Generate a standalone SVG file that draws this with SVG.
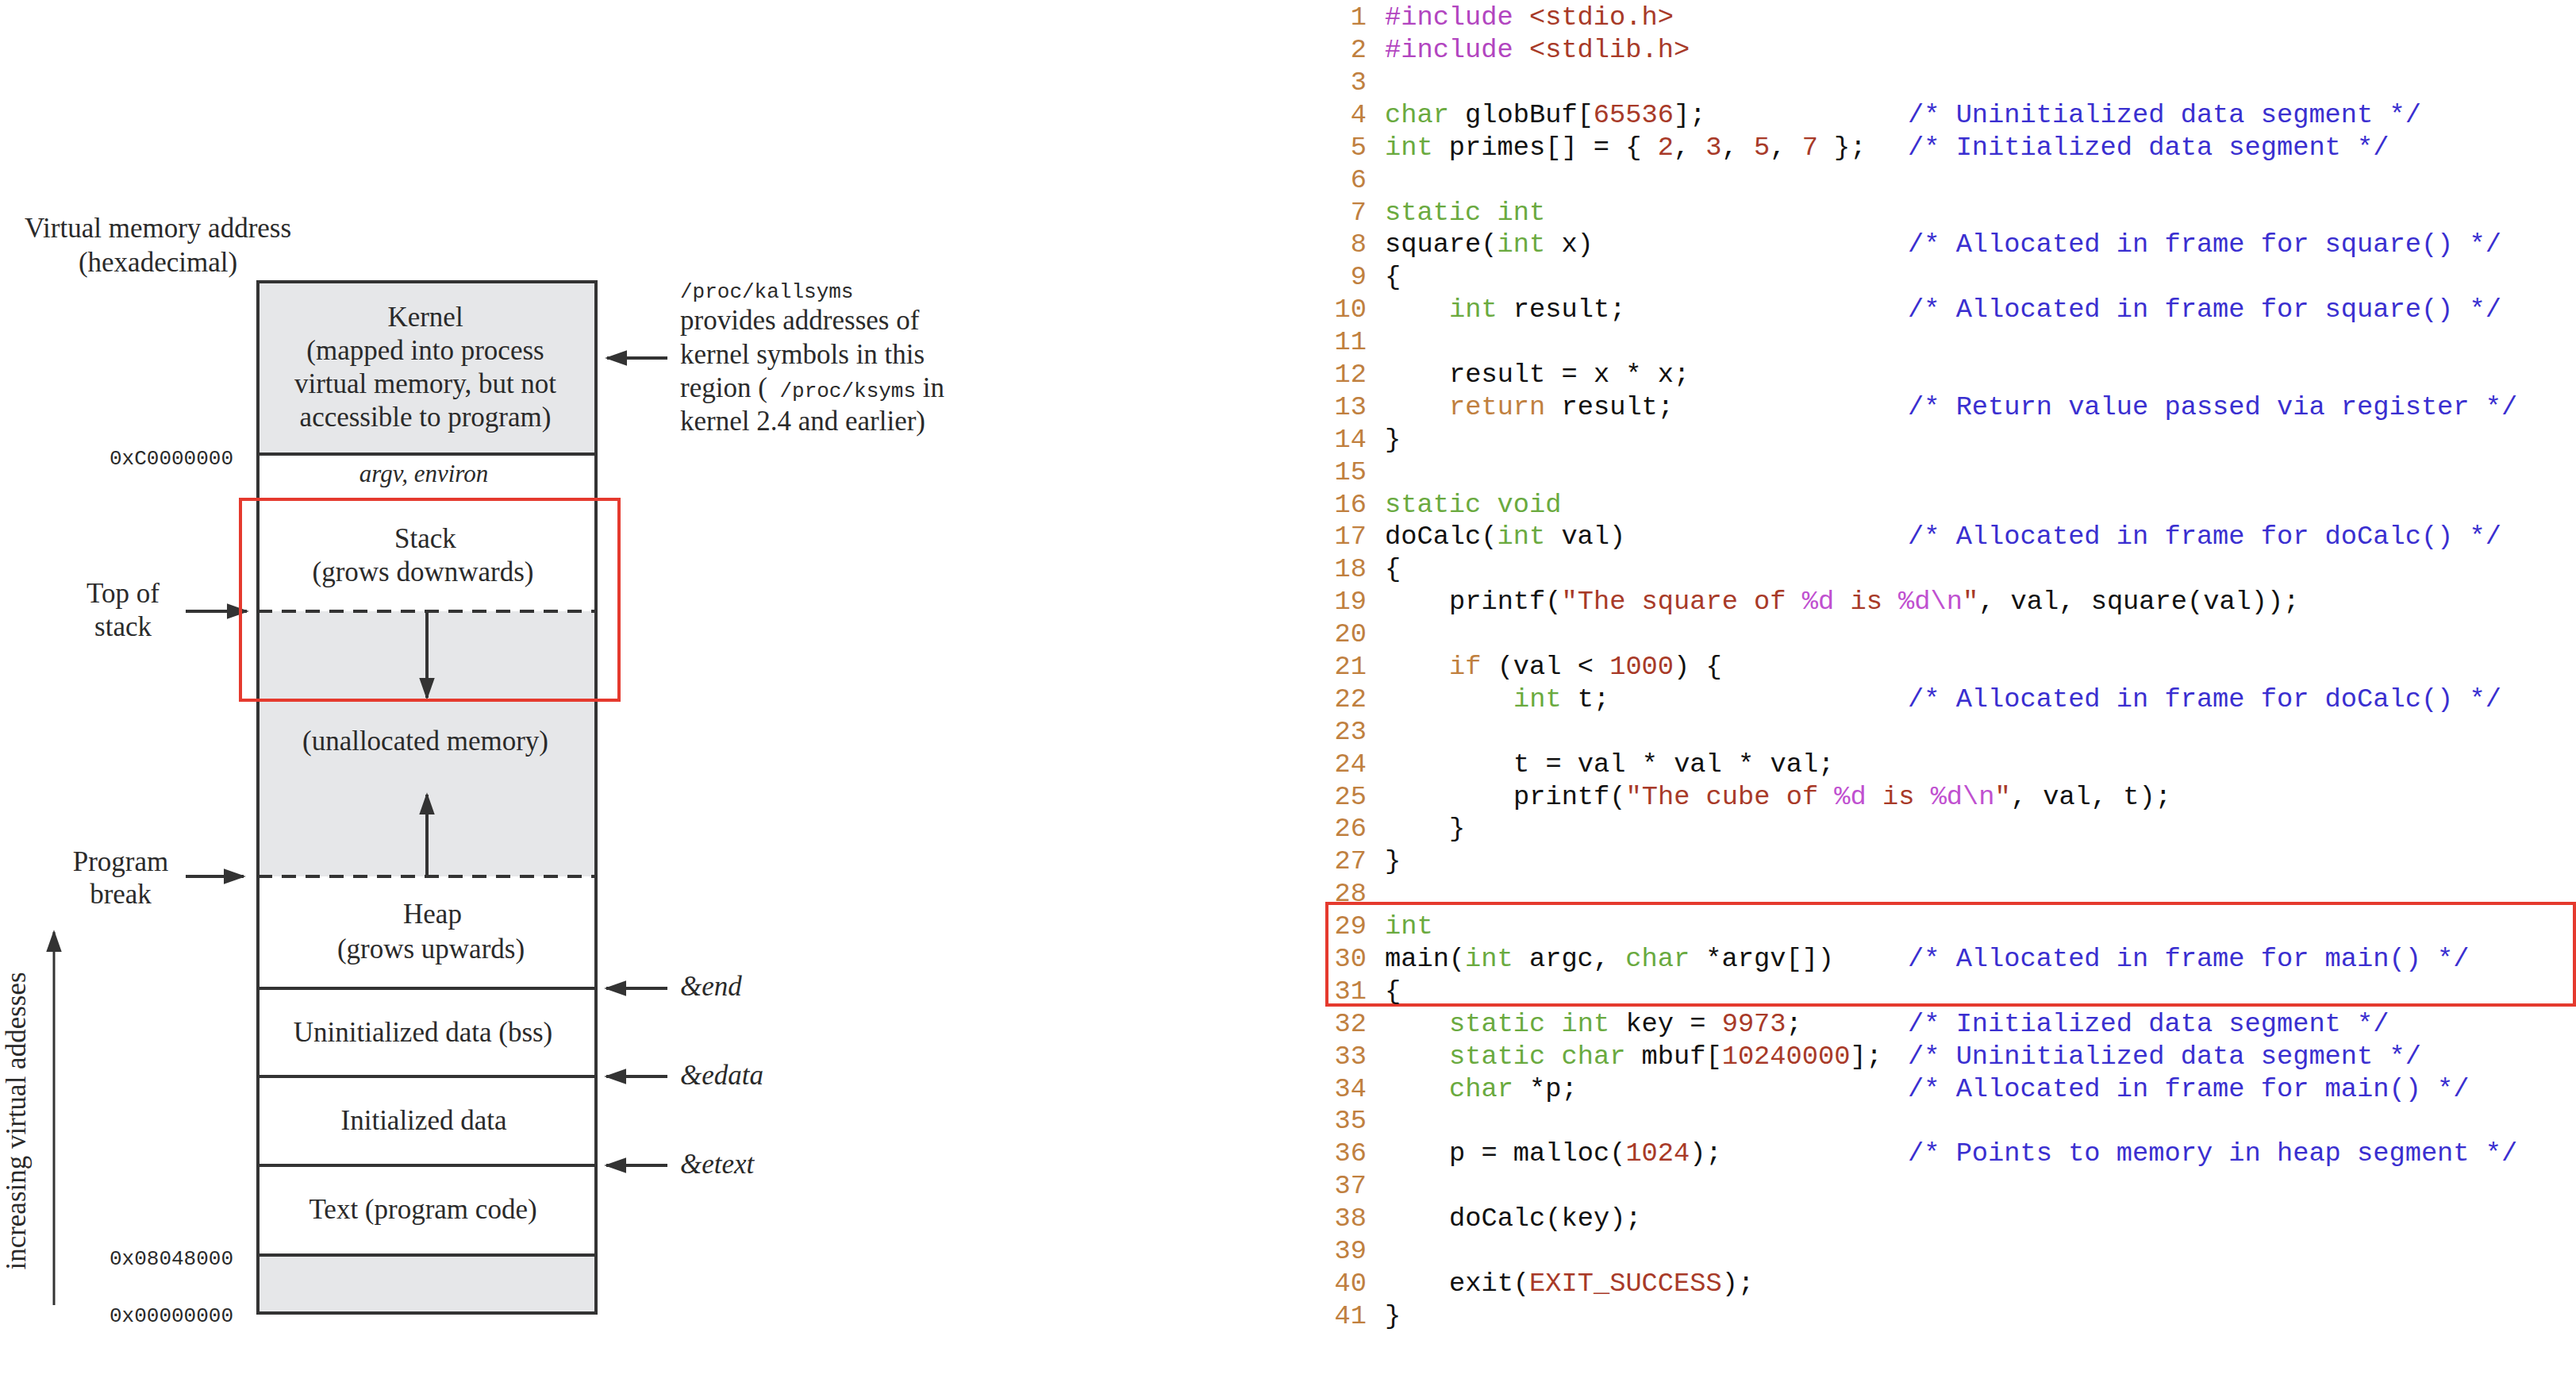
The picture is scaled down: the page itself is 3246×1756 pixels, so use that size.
<svg xmlns="http://www.w3.org/2000/svg" width="3246" height="1756" viewBox="0 0 3246 1756">
<style>
.s{font-family:"Liberation Serif",serif;font-size:35px;fill:#2a2a2a}
.m{font-family:"Liberation Mono",monospace;font-size:26px;fill:#2a2a2a}
.c{font-family:"Liberation Mono",monospace;font-size:33.7px;fill:#111}
.ln{fill:#c0803f;text-anchor:end}
.k{fill:#6aaa3f}.p{fill:#b245c0}.r{fill:#a83a28}.cm{fill:#3a2fd0}.o{fill:#c0803f}.f{fill:#c050d0}
.box{stroke:#333;stroke-width:4;fill:none}
.g{fill:#e6e7e9}
.a{stroke:#333;stroke-width:4;fill:none}
.red{stroke:#e53a2e;stroke-width:4;fill:none}
</style>
<defs><marker id="ah" viewBox="0 0 10 10" refX="9" refY="5" markerWidth="6" markerHeight="6" markerUnits="userSpaceOnUse" orient="auto"><path d="M0,0L10,5L0,10z" fill="#333"/></marker>
<marker id="ah2" viewBox="0 0 10 10" refX="9" refY="5" markerWidth="28" markerHeight="28" markerUnits="userSpaceOnUse" orient="auto"><path d="M0,1.5L10,5L0,8.5z" fill="#333"/></marker></defs>
<rect width="3246" height="1756" fill="#fff"/>
<g id="memory">
<rect class="g" x="325" y="355" width="426" height="217"/>
<rect class="g" x="325" y="770" width="426" height="334"/>
<rect class="g" x="325" y="1581" width="426" height="73"/>
<rect class="box" x="325" y="355" width="426" height="1299"/>
<line class="a" x1="325" y1="572" x2="751" y2="572"/>
<line class="a" x1="325" y1="629" x2="751" y2="629" stroke="#999"/>
<line class="a" x1="325" y1="770" x2="751" y2="770" stroke-dasharray="18,12"/>
<line class="a" x1="325" y1="1104" x2="751" y2="1104" stroke-dasharray="18,12"/>
<line class="a" x1="325" y1="1245" x2="751" y2="1245"/>
<line class="a" x1="325" y1="1356" x2="751" y2="1356"/>
<line class="a" x1="325" y1="1468" x2="751" y2="1468"/>
<line class="a" x1="325" y1="1581" x2="751" y2="1581"/>
<g class="s" text-anchor="middle">
<text x="536" y="411">Kernel</text>
<text x="536" y="453">(mapped into process</text>
<text x="536" y="495">virtual memory, but not</text>
<text x="536" y="537">accessible to program)</text>
<text x="534" y="607" font-style="italic" font-size="31">argv, environ</text>
<text x="536" y="690">Stack</text>
<text x="533" y="732">(grows downwards)</text>
<text x="536" y="945">(unallocated memory)</text>
<text x="545" y="1163">Heap</text>
<text x="543" y="1207">(grows upwards)</text>
<text x="533" y="1312">Uninitialized data (bss)</text>
<text x="534" y="1423">Initialized data</text>
<text x="533" y="1535">Text (program code)</text>
<text x="155" y="759">Top of</text>
<text x="155" y="801">stack</text>
<text x="152" y="1097">Program</text>
<text x="152" y="1138">break</text>
<text x="199" y="299">Virtual memory address</text>
<text x="199" y="342">(hexadecimal)</text>
</g>
<g class="m" text-anchor="end">
<text x="294" y="585">0xC0000000</text>
<text x="294" y="1593">0x08048000</text>
<text x="294" y="1665">0x00000000</text>
</g>
<text class="m" x="857" y="375">/proc/kallsyms</text>
<text class="s" x="857" y="415">provides addresses of</text>
<text class="s" x="857" y="458">kernel symbols in this</text>
<text class="s" x="857" y="500">region (<tspan class="m"> /proc/ksyms</tspan> in</text>
<text class="s" x="857" y="542">kernel 2.4 and earlier)</text>
<g class="s" font-style="italic">
<text x="857" y="1254">&amp;end</text>
<text x="857" y="1366">&amp;edata</text>
<text x="857" y="1478">&amp;etext</text>
</g>
<text class="s" transform="translate(32,1412) rotate(-90)" text-anchor="middle" font-size="34">increasing virtual addesses</text>
</g>
<g id="connectors">
<line class="a" x1="538" y1="772" x2="538" y2="879" marker-end="url(#ah2)"/>
<line class="a" x1="538" y1="1104" x2="538" y2="1001" marker-end="url(#ah2)"/>
<line class="a" x1="234" y1="770" x2="311" y2="770" marker-end="url(#ah2)"/>
<line class="a" x1="234" y1="1104" x2="307" y2="1104" marker-end="url(#ah2)"/>
<line class="a" x1="841" y1="451" x2="765" y2="451" marker-end="url(#ah2)"/>
<line class="a" x1="841" y1="1245" x2="764" y2="1245" marker-end="url(#ah2)"/>
<line class="a" x1="841" y1="1356" x2="764" y2="1356" marker-end="url(#ah2)"/>
<line class="a" x1="841" y1="1468" x2="764" y2="1468" marker-end="url(#ah2)"/>
<line x1="68" y1="1644" x2="68" y2="1174" stroke="#333" stroke-width="3" marker-end="url(#ah2)"/>
</g>
<g id="highlights">
<rect class="red" x="303" y="629" width="477" height="253"/>
<rect class="red" x="1672" y="1138" width="1572" height="128"/>
</g>
<g id="code" class="c">
<text class="ln" x="1722" y="31">1</text><text x="1745" y="31"><tspan class="p">#include </tspan><tspan class="r">&lt;stdio.h&gt;</tspan></text>
<text class="ln" x="1722" y="72">2</text><text x="1745" y="72"><tspan class="p">#include </tspan><tspan class="r">&lt;stdlib.h&gt;</tspan></text>
<text class="ln" x="1722" y="113">3</text>
<text class="ln" x="1722" y="154">4</text><text x="1745" y="154"><tspan class="k">char</tspan> globBuf[<tspan class="r">65536</tspan>];<tspan class="cm" x="2404">/* Uninitialized data segment */</tspan></text>
<text class="ln" x="1722" y="195">5</text><text x="1745" y="195" xml:space="preserve"><tspan class="k">int</tspan> primes[] = { <tspan class="r">2</tspan>, <tspan class="r">3</tspan>, <tspan class="r">5</tspan>, <tspan class="r">7</tspan> };<tspan class="cm" x="2404">/* Initialized data segment */</tspan></text>
<text class="ln" x="1722" y="236">6</text>
<text class="ln" x="1722" y="277">7</text><text x="1745" y="277" class="k">static int</text>
<text class="ln" x="1722" y="317">8</text><text x="1745" y="317">square(<tspan class="k">int</tspan> x)<tspan class="cm" x="2404">/* Allocated in frame for square() */</tspan></text>
<text class="ln" x="1722" y="358">9</text><text x="1745" y="358">{</text>
<text class="ln" x="1722" y="399">10</text><text x="1826" y="399"><tspan class="k">int</tspan> result;<tspan class="cm" x="2404">/* Allocated in frame for square() */</tspan></text>
<text class="ln" x="1722" y="440">11</text>
<text class="ln" x="1722" y="481">12</text><text x="1826" y="481">result = x * x;</text>
<text class="ln" x="1722" y="522">13</text><text x="1826" y="522"><tspan class="o">return</tspan> result;<tspan class="cm" x="2404">/* Return value passed via register */</tspan></text>
<text class="ln" x="1722" y="563">14</text><text x="1745" y="563">}</text>
<text class="ln" x="1722" y="604">15</text>
<text class="ln" x="1722" y="645">16</text><text x="1745" y="645" class="k">static void</text>
<text class="ln" x="1722" y="685">17</text><text x="1745" y="685">doCalc(<tspan class="k">int</tspan> val)<tspan class="cm" x="2404">/* Allocated in frame for doCalc() */</tspan></text>
<text class="ln" x="1722" y="726">18</text><text x="1745" y="726">{</text>
<text class="ln" x="1722" y="767">19</text><text x="1826" y="767" xml:space="preserve">printf(<tspan class="r">"The square of </tspan><tspan class="f">%d</tspan><tspan class="r"> is </tspan><tspan class="f">%d\n</tspan><tspan class="r">"</tspan>, val, square(val));</text>
<text class="ln" x="1722" y="808">20</text>
<text class="ln" x="1722" y="849">21</text><text x="1826" y="849" xml:space="preserve"><tspan class="o">if</tspan> (val &lt; <tspan class="r">1000</tspan>) {</text>
<text class="ln" x="1722" y="890">22</text><text x="1907" y="890"><tspan class="k">int</tspan> t;<tspan class="cm" x="2404">/* Allocated in frame for doCalc() */</tspan></text>
<text class="ln" x="1722" y="931">23</text>
<text class="ln" x="1722" y="972">24</text><text x="1907" y="972">t = val * val * val;</text>
<text class="ln" x="1722" y="1013">25</text><text x="1907" y="1013" xml:space="preserve">printf(<tspan class="r">"The cube of </tspan><tspan class="f">%d</tspan><tspan class="r"> is </tspan><tspan class="f">%d\n</tspan><tspan class="r">"</tspan>, val, t);</text>
<text class="ln" x="1722" y="1053">26</text><text x="1826" y="1053">}</text>
<text class="ln" x="1722" y="1094">27</text><text x="1745" y="1094">}</text>
<text class="ln" x="1722" y="1135">28</text>
<text class="ln" x="1722" y="1176">29</text><text x="1745" y="1176" class="k">int</text>
<text class="ln" x="1722" y="1217">30</text><text x="1745" y="1217" xml:space="preserve">main(<tspan class="k">int</tspan> argc, <tspan class="k">char</tspan> *argv[])<tspan class="cm" x="2404">/* Allocated in frame for main() */</tspan></text>
<text class="ln" x="1722" y="1258">31</text><text x="1745" y="1258">{</text>
<text class="ln" x="1722" y="1299">32</text><text x="1826" y="1299" xml:space="preserve"><tspan class="k">static int</tspan> key = <tspan class="r">9973</tspan>;<tspan class="cm" x="2404">/* Initialized data segment */</tspan></text>
<text class="ln" x="1722" y="1340">33</text><text x="1826" y="1340" xml:space="preserve"><tspan class="k">static char</tspan> mbuf[<tspan class="r">10240000</tspan>];<tspan class="cm" x="2404">/* Uninitialized data segment */</tspan></text>
<text class="ln" x="1722" y="1381">34</text><text x="1826" y="1381"><tspan class="k">char</tspan> *p;<tspan class="cm" x="2404">/* Allocated in frame for main() */</tspan></text>
<text class="ln" x="1722" y="1421">35</text>
<text class="ln" x="1722" y="1462">36</text><text x="1826" y="1462">p = malloc(<tspan class="r">1024</tspan>);<tspan class="cm" x="2404">/* Points to memory in heap segment */</tspan></text>
<text class="ln" x="1722" y="1503">37</text>
<text class="ln" x="1722" y="1544">38</text><text x="1826" y="1544">doCalc(key);</text>
<text class="ln" x="1722" y="1585">39</text>
<text class="ln" x="1722" y="1626">40</text><text x="1826" y="1626">exit(<tspan class="r">EXIT_SUCCESS</tspan>);</text>
<text class="ln" x="1722" y="1667">41</text><text x="1745" y="1667">}</text>
</g>
</svg>
